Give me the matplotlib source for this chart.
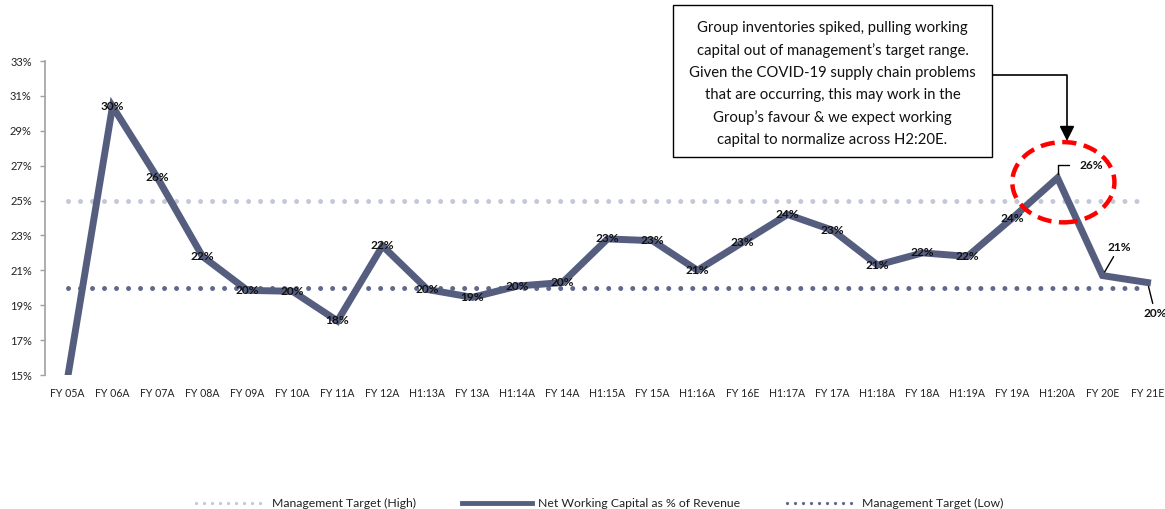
import numpy as np
import matplotlib
matplotlib.use("Agg")
import matplotlib.pyplot as plt
from matplotlib.patches import Ellipse, Rectangle
from matplotlib.lines import Line2D

# ---- data ----
categories = ["FY 05A", "FY 06A", "FY 07A", "FY 08A", "FY 09A", "FY 10A", "FY 11A",
              "FY 12A", "H1:13A", "FY 13A", "H1:14A", "FY 14A", "H1:15A", "FY 15A",
              "H1:16A", "FY 16E", "H1:17A", "FY 17A", "H1:18A", "FY 18A", "H1:19A",
              "FY 19A", "H1:20A", "FY 20E", "FY 21E"]
nwc_pct = [14.8, 30.4, 26.3, 21.8, 19.85, 19.8, 18.1, 22.4, 19.9, 19.45, 20.1, 20.3,
           22.8, 22.7, 21.0, 22.6, 24.2, 23.3, 21.3, 22.0, 21.8, 24.0, 26.3, 20.7, 20.3]
target_high = 25.0
target_low = 20.0
y_ticks = [15, 17, 19, 21, 23, 25, 27, 29, 31, 33]

series_names = ["Management Target (High)", "Net Working Capital as % of Revenue",
                "Management Target (Low)"]
note_text = ("Group inventories spiked, pulling working\n"
             "capital out of management\u2019s target range.\n"
             "Given the COVID-19 supply chain problems\n"
             "that are occurring, this may work in the\n"
             "Group\u2019s favour & we expect working\n"
             "capital to normalize across H2:20E.")

# ---- style ----
FONT = "Lato"
plt.rcParams["font.family"] = [FONT, "DejaVu Sans"]
LINE_C = "#565E80"
HIGH_C = "#C4C7D7"
LOW_C = "#616889"
AXIS_C = "#A0A0A0"

W, H = 1165, 509
fig = plt.figure(figsize=(W / 100, H / 100), dpi=100)
ax = fig.add_axes([45 / W, (H - 375) / H, 1125 / W, 314 / H])

x = np.arange(len(categories))
ax.set_xlim(-0.5, len(categories) - 0.5)
ax.set_ylim(y_ticks[0], y_ticks[-1])

dot_style = (0, (0.001, 2.4))
ax.plot(x, [target_high] * len(x), color=HIGH_C, lw=3.6, linestyle=dot_style,
        dash_capstyle="round", zorder=2)
ax.plot(x, [target_low] * len(x), color=LOW_C, lw=3.6, linestyle=dot_style,
        dash_capstyle="round", zorder=2)
ax.plot(x, nwc_pct, color=LINE_C, lw=5, solid_joinstyle="miter", zorder=3)

# axes styling
for s in ["top", "right", "bottom"]:
    ax.spines[s].set_visible(False)
ax.spines["left"].set_color(AXIS_C)
ax.spines["left"].set_linewidth(1.2)
ax.set_yticks(y_ticks)
ax.set_yticklabels([f"{t}%" for t in y_ticks])
ax.tick_params(axis="y", direction="out", length=3.5, width=1.0, color=AXIS_C,
               labelsize=8, pad=6, labelcolor="#222222")
ax.set_xticks(x)
ax.set_xticklabels(categories)
ax.tick_params(axis="x", length=0, labelsize=7.6, pad=9.5, labelcolor="#222222")

# data labels
lbl_kw = dict(fontsize=8.6, fontweight="bold", color="#111111", zorder=5)
n = len(nwc_pct)
special = {n - 3: ((16, 9), "angle"), n - 2: ((3.5, 16.5), "line"), n - 1: ((5.5, -18), "line")}
for i, v in enumerate(nwc_pct):
    if v < y_ticks[0]:
        continue
    txt = f"{v:.0f}%"
    if i in special:
        off, kind = special[i]
        if kind == "angle":
            ax.annotate(txt, xy=(i, v), xytext=off, textcoords="offset points",
                        ha="left", va="center", annotation_clip=False,
                        arrowprops=dict(arrowstyle="-", color="black", lw=1.0,
                                        connectionstyle="angle,angleA=0,angleB=90,rad=0",
                                        shrinkA=6, shrinkB=3),
                        **lbl_kw)
        else:
            ax.annotate(txt, xy=(i, v), xytext=off, textcoords="offset points",
                        ha="left" if off[1] > 0 else "center",
                        va="bottom" if off[1] > 0 else "top", annotation_clip=False,
                        arrowprops=dict(arrowstyle="-", color="black", lw=1.0,
                                        shrinkA=1, shrinkB=3),
                        **lbl_kw)
    else:
        ax.text(i, v, txt, ha="center", va="center", **lbl_kw)

# highlight around the H1:20A spike
peak = int(np.argmax(nwc_pct[15:])) + 15
ax.add_patch(Ellipse((peak + 0.13, nwc_pct[peak] - 0.25), 2.27, 4.6, fill=False,
                     edgecolor="#FF0000", lw=3.2, linestyle=(0, (3.2, 1.7)),
                     clip_on=False, zorder=6))

# commentary box and arrow
def fx(px):
    return px / W

def fy(py):
    return (H - py) / H

fig.patches.append(Rectangle((fx(673), fy(157)), fx(992) - fx(673), fy(5) - fy(157),
                             transform=fig.transFigure, fill=True, facecolor="white",
                             edgecolor="black", lw=1.0, zorder=7))
fig.text(fx(832.5), fy(84), note_text, ha="center", va="center", fontsize=10.7,
         linespacing=1.7, color="#111111", zorder=8)
ax.annotate("", xy=(fx(1067), fy(141)), xycoords="figure fraction",
            xytext=(fx(992), fy(75)), textcoords="figure fraction",
            arrowprops=dict(arrowstyle="-|>,head_length=0.9,head_width=0.45",
                            color="black", lw=1.2,
                            connectionstyle="angle,angleA=0,angleB=90,rad=0",
                            shrinkA=0, shrinkB=0),
            annotation_clip=False, zorder=8)

# legend
handles = [
    Line2D([], [], color=HIGH_C, lw=2.4, linestyle=(0, (0.001, 2.4)), dash_capstyle="round"),
    Line2D([], [], color=LINE_C, lw=3.5),
    Line2D([], [], color=LOW_C, lw=2.4, linestyle=(0, (0.001, 2.4)), dash_capstyle="round"),
]
fig.legend(handles, series_names, loc="lower center", bbox_to_anchor=(0.515, -0.022),
           ncol=3, frameon=False, fontsize=8.8, handlelength=5.7, handletextpad=0.5,
           columnspacing=3.8, labelcolor="#222222")

fig.savefig("out.png", dpi=100, facecolor="white")
